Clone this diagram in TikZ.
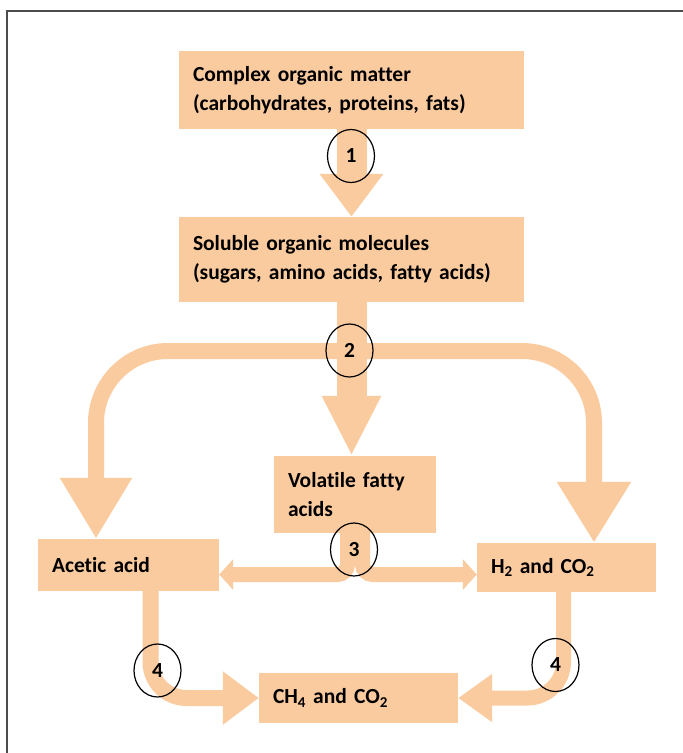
\documentclass[tikz,border=0pt]{standalone}
\usepackage{fontspec}
\setmainfont{Carlito}[Ligatures=NoCommon]
\usetikzlibrary{arrows.meta,shapes.geometric}

\definecolor{peach}{RGB}{251,203,160}

\begin{document}
\begin{tikzpicture}[x=1pt,y=-1pt,
    font=\fontsize{21.5pt}{29.5pt}\selectfont\bfseries,
    box/.style={fill=peach, inner xsep=14pt, inner ysep=0pt, align=left},
    flow/.style={draw=peach, line width=#1},
    stage/.style={ellipse, draw, line width=1.2pt, minimum width=47pt, minimum height=53pt, inner sep=0pt}]
\useasboundingbox (0,0) rectangle (683,753);

% frame
\draw[black!70, line width=1.2pt] (7,753) -- (7,11) -- (683,11);

% the boxes
\node[box, minimum height=78pt, text width=317pt] (organic) at (351.5,90)
    {Complex organic matter\\(carbohydrates, proteins, fats)};
\node[box, minimum height=85pt, text width=317pt] (soluble) at (351.5,259.5)
    {Soluble organic molecules\\(sugars, amino acids, fatty acids)};
\node[box, minimum height=77pt, text width=134pt] (vfa) at (355,494.5)
    {Volatile fatty\\acids};
\node[box, minimum height=52pt, text width=153pt] (acetic) at (128.5,565) {Acetic acid};
\node[box, minimum height=49pt, text width=151pt] (hydro) at (566.5,567.5)
    {H\textsubscript{2} and CO\textsubscript{2}};
\node[box, minimum height=50pt, text width=171pt] (methane) at (358.5,698)
    {CH\textsubscript{4} and CO\textsubscript{2}};

% the flows between them
\coordinate (split) at (351.5,351);
\draw[flow=30pt, -{Triangle[length=43pt,width=61pt]}] (organic.south) -- (soluble.north);
\draw[flow=30pt, -{Triangle[length=60pt,width=55pt]}] (soluble.south) -- (soluble.south |- vfa.north);
\draw[flow=16pt, rounded corners=72pt, -{Triangle[length=61pt,width=68pt]}]
    (split) -| (acetic.north -| 96,0);   % to acetic acid
\draw[flow=16pt, rounded corners=72pt, -{Triangle[length=61pt,width=70pt]}]
    (split) -| (hydro.north -| 594,0);   % to H2 and CO2
\draw[flow=15pt, rounded corners=10pt, -{Triangle[length=14pt,width=30pt]}]
    ([xshift=-7.5pt]vfa.south) |- (acetic.east |- 0,574.5);
\draw[flow=15pt, rounded corners=10pt, -{Triangle[length=14pt,width=30pt]}]
    ([xshift=7.5pt]vfa.south) |- (hydro.west |- 0,574.5);
\draw[flow=16pt, rounded corners=36pt, -{Triangle[length=36pt,width=51pt]}]
    (acetic.south -| 150.5,0) |- (methane.west);
\draw[flow=15pt, rounded corners=36pt, -{Triangle[length=34pt,width=46pt]}]
    (hydro.south -| 563.5,0) |- (methane.east);

% the stages
\node[stage] (s1) at (351,156) {1};
\node[stage] (s2) at (349.5,350.5) {2};
\node[stage] (s3) at (354,549.5) {3};
\node[stage] (s4a) at (157.5,670.5) {4};
\node[stage] (s4b) at (555.5,665) {4};

\end{tikzpicture}
\end{document}
